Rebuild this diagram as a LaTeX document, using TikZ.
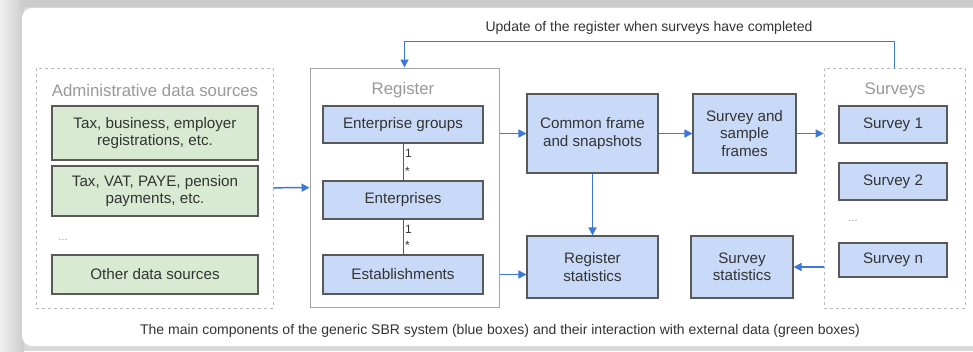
\documentclass[tikz,border=0pt]{standalone}
\usepackage{fontspec}
\setmainfont{Liberation Sans}
\usetikzlibrary{arrows.meta,positioning}
\definecolor{bluefill}{HTML}{C9DAF8}
\definecolor{greenfill}{HTML}{D9EAD3}
\definecolor{boxline}{HTML}{595959}
\definecolor{arrowblue}{HTML}{3C78D8}
\definecolor{txt}{HTML}{333333}
\definecolor{titlegray}{HTML}{999999}
\tikzset{
  unitbox/.style={draw=boxline, line width=1.1pt, minimum width=#1, align=center, inner sep=2pt, text=txt, font=\fontsize{15.2}{17.5}\selectfont},
  bluebox/.style={unitbox=#1, fill=bluefill},
  greenbox/.style={unitbox=#1, fill=greenfill},
  container/.style={draw=gray!55, dash pattern=on 3pt off 3pt, line width=0.8pt, minimum width=#1},
  regbox/.style={draw=gray!70, line width=1pt, minimum width=#1},
  flow/.style={draw=arrowblue, line width=1.5pt, -{Triangle[length=8pt,width=8pt]}},
  link/.style={draw=boxline, line width=1pt},
  ctitle/.style={text=titlegray, font=\fontsize{16.8}{19}\selectfont},
  mult/.style={text=txt, font=\fontsize{12}{13}\selectfont, anchor=west, inner sep=1.5pt},
  dots/.style={text=titlegray, font=\fontsize{11}{12}\selectfont},
  note/.style={text=txt, font=\fontsize{14}{16}\selectfont}
}
\begin{document}
\begin{tikzpicture}[x=1pt,y=-1pt]
\useasboundingbox (0,0) rectangle (973,351);
% background frame
\fill[gray!30] (0,0) rectangle (973,351);
\shade[left color=gray!12, right color=gray!40] (0,0) rectangle (24,351);
\fill[gray!40] (20,0) rectangle (973,7);
\fill[white, rounded corners=10pt] (22,8) rectangle (985,346);
\fill[white] (960,8) rectangle (973,346);
% containers
\node[container=237pt, minimum height=240pt] (admin) at (154.5,188) {};
\node[regbox=189pt, minimum height=239pt] (register) at (404.5,187.5) {};
\node[container=141pt, minimum height=240pt] (surveys) at (894.5,188) {};
\node[ctitle] (admintitle) at (155,90) {Administrative data sources};
\node[ctitle] (regtitle) at (403,90) {Register};
\node[ctitle] (survtitle) at (895,90) {Surveys};
% green boxes
\node[greenbox=206pt, minimum height=54pt] (g1) at (155,133) {Tax, business, employer\\registrations, etc.};
\node[greenbox=206pt, minimum height=50pt] (g2) at (155,191) {Tax, VAT, PAYE, pension\\payments, etc.};
\node[dots] (gdots) at (63,240) {...};
\node[greenbox=206pt, minimum height=39pt] (g3) at (155,274.5) {Other data sources};
% register units
\node[bluebox=160pt, minimum height=37pt] (eg) at (403,124.5) {Enterprise groups};
\node[bluebox=160pt, minimum height=38pt] (ent) at (403,200) {Enterprises};
\node[bluebox=160pt, minimum height=39pt] (est) at (403,274.5) {Establishments};
\draw[link] (eg) -- (ent) node[mult, pos=0.27] {1} node[mult, pos=0.75] {*};
\draw[link] (ent) -- (est) node[mult, pos=0.27] {1} node[mult, pos=0.75] {*};
% middle boxes
\node[bluebox=131pt, minimum height=79pt] (common) at (592.5,133.5) {Common frame\\and snapshots};
\node[bluebox=131pt, minimum height=62pt] (regstat) at (592.5,267) {Register\\statistics};
\node[bluebox=103pt, minimum height=79pt] (ssf) at (744.5,133.5) {Survey and\\sample\\frames};
\node[bluebox=102pt, minimum height=62pt] (survstat) at (742,267) {Survey\\statistics};
% surveys
\node[bluebox=108pt, minimum height=37pt] (s1) at (893,124.5) {Survey 1};
\node[bluebox=108pt, minimum height=37pt] (s2) at (893,181.5) {Survey 2};
\node[dots] (sdots) at (853,221) {...};
\node[bluebox=108pt, minimum height=34pt] (sn) at (893,260) {Survey n};
% flows
\draw[flow] (admin) -- (register);
\draw[flow] (register.east |- common) -- (common);
\draw[flow] (register.east |- est) -- (regstat.west |- est);
\draw[flow] (common) -- (ssf);
\draw[flow] (common) -- (regstat);
\draw[flow] (ssf) -- (surveys.west |- ssf);
\draw[flow] (surveys.west |- survstat) -- (survstat);
\draw[flow] (surveys.north) -- ++(0,-26) -| (register.north);
% labels
\node[note] (update) at (649,28) {Update of the register when surveys have completed};
\node[note] (caption) at (500,331) {The main components of the generic SBR system (blue boxes) and their interaction with external data (green boxes)};
\end{tikzpicture}
\end{document}
